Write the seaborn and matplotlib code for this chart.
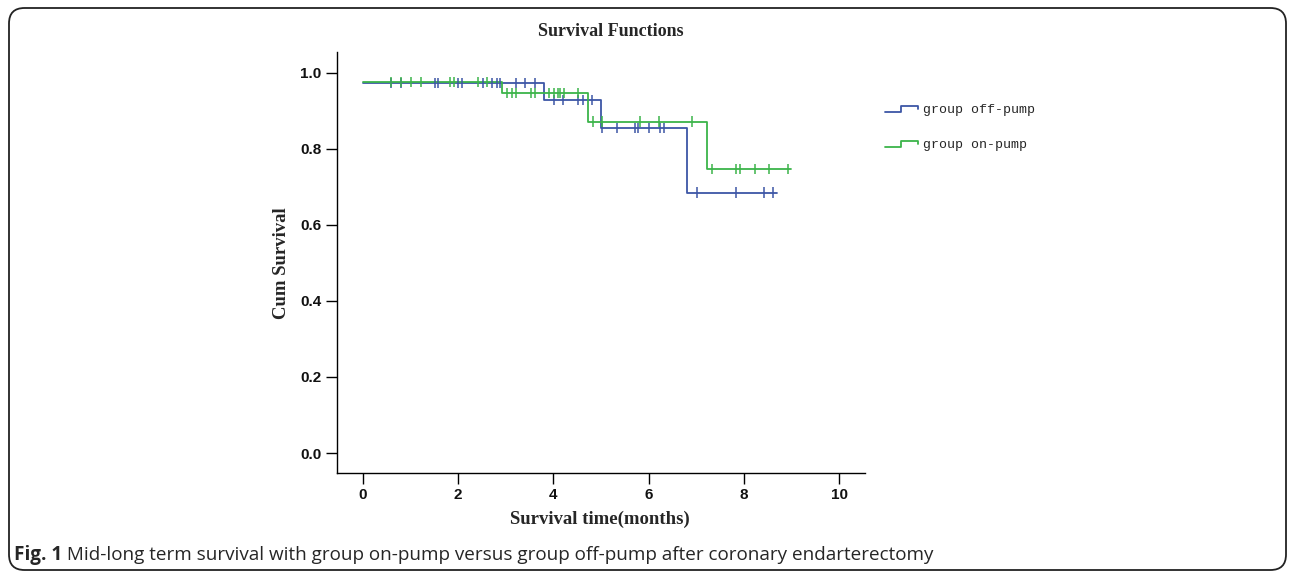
import numpy as np
import pandas as pd
import matplotlib
matplotlib.use("Agg")
import matplotlib.pyplot as plt
import seaborn as sns
from matplotlib.lines import Line2D
from matplotlib.legend_handler import HandlerBase
from matplotlib.patches import FancyBboxPatch

# ---------------- data ----------------
groups = ["group off-pump", "group on-pump"]

off_times = [0.0, 3.80, 5.01, 6.81, 8.70]
off_surv = [0.974, 0.929, 0.855, 0.685, 0.685]
off_censor = [0.59, 0.80, 1.51, 1.58, 2.00, 2.08, 2.52, 2.71, 2.82, 2.88,
              3.21, 3.40, 3.61,
              4.01, 4.20, 4.52, 4.62, 4.81,
              5.02, 5.34, 5.71, 5.78, 6.01, 6.24, 6.32,
              7.02, 7.84, 8.42, 8.61]

on_times = [0.0, 2.91, 4.72, 7.22, 9.00]
on_surv = [0.976, 0.947, 0.872, 0.748, 0.748]
on_censor = [0.59, 0.80, 1.01, 1.22, 1.83, 1.91, 2.42, 2.61,
             3.03, 3.13, 3.21, 3.53, 3.61, 3.91, 4.01, 4.10, 4.14, 4.22, 4.52,
             4.83, 5.02, 5.82, 6.22, 6.91,
             7.33, 7.84, 7.92, 8.24, 8.53, 8.93]

x_ticks = [0, 2, 4, 6, 8, 10]
y_ticks = [0.0, 0.2, 0.4, 0.6, 0.8, 1.0]

title = "Survival Functions"
x_label = "Survival time(months)"
y_label = "Cum Survival"
caption_bold = "Fig. 1"
caption_text = " Mid-long term survival with group on-pump versus group off-pump after coronary endarterectomy"

colors = {"group off-pump": "#3d56a6", "group on-pump": "#3cb44a"}

# ---------------- tables ----------------
curve_df = pd.concat([
    pd.DataFrame({"time": off_times, "surv": off_surv, "group": groups[0]}),
    pd.DataFrame({"time": on_times, "surv": on_surv, "group": groups[1]}),
], ignore_index=True)


def censor_y(times, surv, cens):
    idx = np.searchsorted(np.asarray(times), np.asarray(cens), side="right") - 1
    return np.asarray(surv)[idx]


cens_df = pd.concat([
    pd.DataFrame({"time": off_censor, "surv": censor_y(off_times, off_surv, off_censor), "group": groups[0]}),
    pd.DataFrame({"time": on_censor, "surv": censor_y(on_times, on_surv, on_censor), "group": groups[1]}),
], ignore_index=True)

# ---------------- figure ----------------
sns.set_style("ticks")
W, H = 1292, 574
fig = plt.figure(figsize=(W / 100, H / 100), dpi=100)

# rounded frame
frame = FancyBboxPatch((9 / W, 1 - 570 / H), (1286 - 9) / W, (570 - 8) / H,
                       boxstyle="round,pad=0,rounding_size=0.012",
                       transform=fig.transFigure, fill=False,
                       edgecolor="#222222", linewidth=1.3, mutation_aspect=W / H)
fig.patches.append(frame)

ax_l, ax_r, ax_t, ax_b = 337, 865, 52, 473
ax = fig.add_axes([ax_l / W, 1 - ax_b / H, (ax_r - ax_l) / W, (ax_b - ax_t) / H])

sns.lineplot(data=curve_df, x="time", y="surv", hue="group", palette=colors,
             estimator=None, sort=False, drawstyle="steps-post", linewidth=1.3,
             legend=False, ax=ax)
sns.scatterplot(data=cens_df, x="time", y="surv", hue="group", palette=colors,
                marker="|", s=55, linewidth=1.1, legend=False, ax=ax, zorder=3)

ax.set_xlim(-0.546, 10.546)
ax.set_ylim(-0.0526, 1.055)
ax.set_xticks(x_ticks)
ax.set_yticks(y_ticks)
ax.set_xticklabels([str(t) for t in x_ticks])
ax.set_yticklabels([f"{t:.1f}" for t in y_ticks])
sns.despine(ax=ax)
for s in ("left", "bottom"):
    ax.spines[s].set_color("black")
    ax.spines[s].set_linewidth(1.0)
ax.tick_params(axis="both", length=8, width=1.0, color="black", direction="out")
ax.tick_params(axis="x", pad=3)
ax.tick_params(axis="y", pad=3)
for lab in ax.get_xticklabels() + ax.get_yticklabels():
    lab.set_fontfamily(["Liberation Sans Narrow", "Liberation Sans", "DejaVu Sans"])
    lab.set_fontweight("bold")
    lab.set_fontsize(11)
    lab.set_color("#111111")

serif = ["Liberation Serif", "DejaVu Serif"]
ax.set_xlabel("")
ax.set_ylabel("")
fig.text(600 / W, 1 - 519 / H, x_label, ha="center", va="center",
         family=serif, weight="bold", fontsize=13.5)
fig.text(282 / W, 1 - 263 / H, y_label, ha="center", va="center", rotation=90,
         family=serif, weight="bold", fontsize=13.5)
fig.text(611 / W, 1 - 32 / H, title, ha="center", va="center",
         family=serif, weight="bold", fontsize=13)


# legend with step glyph
class StepHandler(HandlerBase):
    def create_artists(self, legend, orig_handle, xdescent, ydescent, width,
                       height, fontsize, trans):
        xs = np.array([0, 0.5, 0.5, 1.0, 1.0]) * width - xdescent
        ys = np.array([0.1, 0.1, 0.8, 0.8, 0.45]) * height - ydescent
        ln = Line2D(xs, ys, color=orig_handle.get_color(), linewidth=1.3)
        ln.set_transform(trans)
        return [ln]


handles = [Line2D([], [], color=colors[g]) for g in groups]
fig.legend(handles, groups, loc="upper left",
           bbox_to_anchor=(885 / W, 1 - 104 / H), frameon=False,
           prop=dict(family=["Liberation Mono", "DejaVu Sans Mono"], size=9.5),
           handlelength=2.5, handletextpad=0.4, labelspacing=1.7,
           borderpad=0, borderaxespad=0,
           handler_map={Line2D: StepHandler()})

# caption, fitted to the reference width (x 14 .. 935 px)
fig.canvas.draw()
renderer = fig.canvas.get_renderer()
cap_font = ["Open Sans", "Noto Sans", "DejaVu Sans"]
base = 11.0
t1 = fig.text(14 / W, 1 - 555 / H, caption_bold, ha="left", va="center",
              family=cap_font, weight="bold", fontsize=base)
t2 = fig.text(0, 1 - 555 / H, caption_text, ha="left", va="center",
              family=cap_font, fontsize=base)
w_tot = t1.get_window_extent(renderer).width + t2.get_window_extent(renderer).width
fs = base * (935 - 14) / w_tot
t1.set_fontsize(fs)
t2.set_fontsize(fs)
bb = t1.get_window_extent(renderer)
t2.set_x(bb.x1 / W)

fig.savefig("out.png", dpi=100)
